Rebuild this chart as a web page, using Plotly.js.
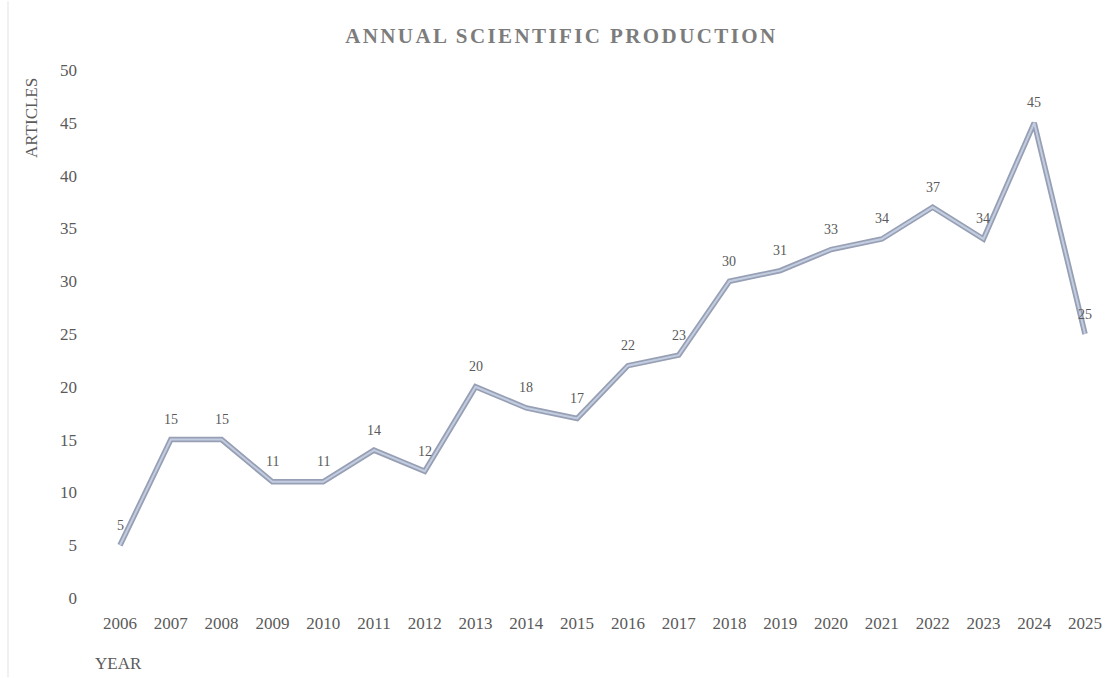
<!DOCTYPE html>
<html><head><meta charset="utf-8">
<script src="https://cdn.plot.ly/plotly-3.0.1.min.js"></script>
<style>html,body{margin:0;padding:0;background:#fff}#chart{width:1105px;height:678px}
.gtitle{letter-spacing:2.4px}</style>
</head><body><div id="chart"></div>
<script>
const years = [2006,2007,2008,2009,2010,2011,2012,2013,2014,2015,2016,2017,2018,2019,2020,2021,2022,2023,2024,2025];
const articles = [5,15,15,11,11,14,12,20,18,17,22,23,30,31,33,34,37,34,45,25];
const yTicks = [0,5,10,15,20,25,30,35,40,45,50];

const serif = "Liberation Serif, serif";
const traces = [
  {x: years, y: articles, type:'scatter', mode:'lines', line:{color:'#979fb4', width:5.5}, hoverinfo:'skip', showlegend:false},
  {x: years, y: articles, type:'scatter', mode:'lines', line:{color:'#c3cde0', width:2}, hoverinfo:'skip', showlegend:false}
];
const labelAnns = years.map((yr, i) => ({
  x: yr, y: articles[i], xref:'x', yref:'y', text: String(articles[i]), showarrow:false,
  yshift: 20, xanchor:'center', yanchor:'middle',
  font:{family:serif, size:14, color:'#5a5a5a'}
}));
const layout = {
  width:1105, height:678,
  margin:{l:100, r:5, t:70, b:80},
  paper_bgcolor:'#fff', plot_bgcolor:'#fff',
  title:{text:'<b>ANNUAL SCIENTIFIC PRODUCTION</b>', x:0.508, xanchor:'center', y:0.948, yanchor:'middle',
    font:{family:serif, size:21, color:'#7c7c7c'}},
  xaxis:{type:'linear', range:[2005.606, 2025.295], tickvals:years, ticktext:years.map(String),
    showgrid:false, zeroline:false, showline:false, ticks:'', ticklabelstandoff:13,
    tickfont:{family:serif, size:17, color:'#5a5a5a'}},
  yaxis:{range:[0,50], tickvals:yTicks, showgrid:false, zeroline:false, showline:false, ticks:'',
    ticklabelstandoff:22, tickfont:{family:serif, size:17, color:'#5a5a5a'}},
  annotations: labelAnns.concat([
    {text:'ARTICLES', xref:'paper', yref:'paper', x:0, y:1, xanchor:'center', yanchor:'top',
     textangle:-90, showarrow:false, font:{family:serif, size:17, color:'#5a5a5a'}, xshift:-69, yshift:-6},
    {text:'YEAR', xref:'paper', yref:'paper', x:0, y:0, xanchor:'left', yanchor:'middle',
     yshift:-65, xshift:-7, showarrow:false, font:{family:serif, size:17, color:'#5a5a5a'}}
  ]),
  shapes:[{type:'line', xref:'paper', yref:'paper', x0:-0.092, x1:-0.092, y0:-0.15, y1:1.13, line:{color:'#e3e3e3', width:1}}]
};
Plotly.newPlot('chart', traces, layout, {displayModeBar:false, staticPlot:true});
</script></body></html>
